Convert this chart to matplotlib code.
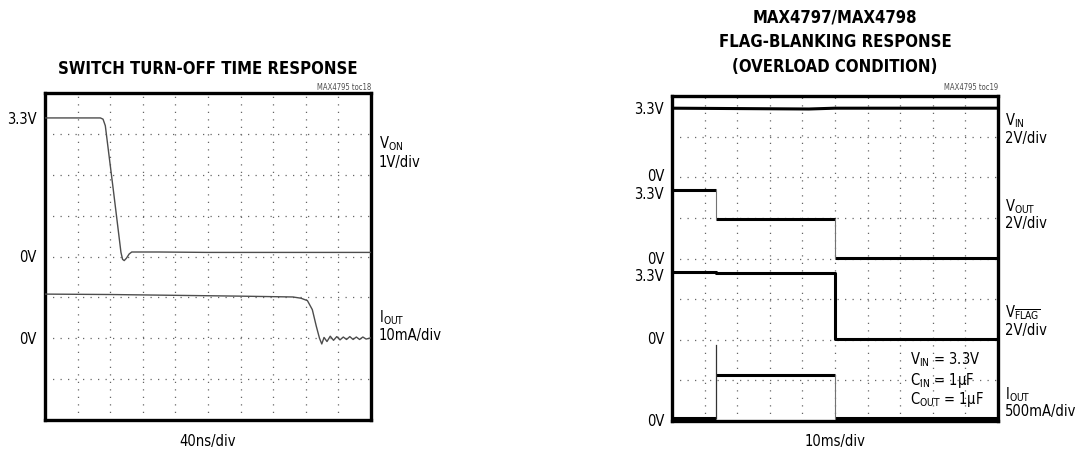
import numpy as np
import matplotlib.pyplot as plt

# ---- data (in scope divisions: x 0..10, y 0..8) ----
# switch turn-off: V_ON trace
von_x = [0.0, 1.70, 1.78, 1.85, 2.10, 2.33, 2.38, 2.43, 2.50, 2.58, 2.66, 3.5, 5.0, 7.0, 10.0]
von_y = [7.39, 7.39, 7.36, 7.20, 5.60, 4.10, 3.93, 3.90, 3.96, 4.06, 4.11, 4.11, 4.10, 4.10, 4.10]
# switch turn-off: I_OUT trace
iout_x = [0.0, 2.0, 4.0, 6.0, 7.6, 7.85, 8.05, 8.20, 8.32, 8.42, 8.49, 8.56, 8.65, 8.75, 8.85,
          8.95, 9.05, 9.15, 9.25, 9.35, 9.45, 9.55, 9.65, 9.75, 9.85, 10.0]
iout_y = [3.08, 3.07, 3.05, 3.03, 3.01, 2.98, 2.92, 2.70, 2.30, 2.00, 1.86, 2.02, 1.92, 2.05, 1.95,
          2.04, 1.96, 2.03, 1.97, 2.04, 1.97, 2.03, 1.97, 2.03, 1.98, 2.01]

# flag-blanking: step traces
t_block = 1.36
t_flag = 5.01
vin_x = [0.0, 4.2, 5.0, 10.0]
vin_y = [7.70, 7.68, 7.70, 7.70]
vout_x = [0.0, t_block, t_block, t_flag, t_flag, 10.0]
vout_y = [5.69, 5.69, 4.97, 4.97, 4.02, 4.02]
vflag_x = [0.0, t_block, t_block, t_flag, t_flag, 10.0]
vflag_y = [3.67, 3.67, 3.64, 3.64, 2.02, 2.02]
iflag_x = [0.0, t_block, t_block, t_block, t_block, t_flag, t_flag, 10.0]
iflag_y = [0.08, 0.08, 1.87, 1.87, 1.13, 1.13, 0.08, 0.08]

W, H = 1077, 456
plt.rcParams['font.family'] = ['DejaVu Sans']
plt.rcParams['font.stretch'] = 'condensed'
plt.rcParams['mathtext.fontset'] = 'custom'
plt.rcParams['mathtext.rm'] = 'DejaVu Sans:stretch=condensed'
plt.rcParams['mathtext.it'] = 'DejaVu Sans:stretch=condensed'

fig = plt.figure(figsize=(W / 100, H / 100), dpi=100)
FS = 10.5
TFS = 12


def px(x, y):
    return x / W, 1 - y / H


def scope_axes(x0, y0, x1, y1):
    ax = fig.add_axes([x0 / W, 1 - y1 / H, (x1 - x0) / W, (y1 - y0) / H])
    ax.set_xlim(0, 10)
    ax.set_ylim(0, 8)
    for k in range(1, 10):
        ax.axvline(k, color='0.4', lw=0.9, ls=(0, (1, 5)), zorder=1)
    for k in range(1, 8):
        ax.axhline(k, color='0.4', lw=0.9, ls=(0, (1, 5)), zorder=1)
    ax.set_xticks([])
    ax.set_yticks([])
    for s in ax.spines.values():
        s.set_linewidth(2.4)
        s.set_color('black')
    return ax


# ---------- left panel ----------
axl = scope_axes(45, 94, 371, 421)
axl.plot(von_x, von_y, color='0.3', lw=1.0, zorder=3)
axl.plot(iout_x, iout_y, color='0.3', lw=1.0, zorder=3)

fig.text(*px(208, 69), 'SWITCH TURN-OFF TIME RESPONSE', ha='center', va='center',
         fontsize=TFS, fontweight='bold')
fig.text(*px(371, 87), 'MAX4795 toc18', ha='right', va='center', fontsize=5.5, color='0.3')
for y, s in [(119, '3.3V'), (258, '0V'), (339, '0V')]:
    fig.text(*px(37, y), s, ha='right', va='center', fontsize=FS)
fig.text(*px(379, 144), r'V$_{\mathregular{ON}}$', ha='left', va='center', fontsize=FS)
fig.text(*px(379, 163), '1V/div', ha='left', va='center', fontsize=FS)
fig.text(*px(379, 318), r'I$_{\mathregular{OUT}}$', ha='left', va='center', fontsize=FS)
fig.text(*px(379, 336), '10mA/div', ha='left', va='center', fontsize=FS)
fig.text(*px(208, 442), '40ns/div', ha='center', va='center', fontsize=FS)

# ---------- right panel ----------
axr = scope_axes(672, 97, 998, 422)
for xs, ys in [(vin_x, vin_y), (vout_x[:2], vout_y[:2]), (vout_x[2:4], vout_y[2:4]),
               (vout_x[4:], vout_y[4:]), (vflag_x, vflag_y),
               (iflag_x[:2], iflag_y[:2]), (iflag_x[4:6], iflag_y[4:6]), (iflag_x[6:], iflag_y[6:])]:
    axr.plot(xs, ys, color='black', lw=2.2, zorder=3, solid_capstyle='butt')
# thin transition edges
axr.plot(vout_x[1:3], vout_y[1:3], color='0.45', lw=0.8, zorder=3)
axr.plot(vout_x[3:5], vout_y[3:5], color='0.45', lw=0.8, zorder=3)
axr.plot(iflag_x[1:3], iflag_y[1:3], color='0.2', lw=0.9, zorder=3)
axr.plot(iflag_x[5:7], iflag_y[5:7], color='0.45', lw=0.8, zorder=3)

for y, s in [(17, 'MAX4797/MAX4798'), (42, 'FLAG-BLANKING RESPONSE'), (67, '(OVERLOAD CONDITION)')]:
    fig.text(*px(835, y), s, ha='center', va='center', fontsize=TFS, fontweight='bold')
fig.text(*px(998, 87), 'MAX4795 toc19', ha='right', va='center', fontsize=5.5, color='0.3')
for y, s in [(110, '3.3V'), (177, '0V'), (195, '3.3V'), (259, '0V'), (277, '3.3V'),
             (340, '0V'), (422, '0V')]:
    fig.text(*px(664, y), s, ha='right', va='center', fontsize=FS)
rl = [(121, r'V$_{\mathregular{IN}}$'), (139, '2V/div'),
      (207, r'V$_{\mathregular{OUT}}$'), (224, '2V/div'),
      (313, r'V$_{\overline{\mathregular{FLAG}}}$'), (331, '2V/div'),
      (395, r'I$_{\mathregular{OUT}}$'), (412, '500mA/div')]
for y, s in rl:
    fig.text(*px(1005, y), s, ha='left', va='center', fontsize=FS)
for y, s in [(360, r'V$_{\mathregular{IN}}$ = 3.3V'), (380, r'C$_{\mathregular{IN}}$ = 1$\mathregular{\mu}$F'),
             (400, r'C$_{\mathregular{OUT}}$ = 1$\mathregular{\mu}$F')]:
    fig.text(*px(910, y), s, ha='left', va='center', fontsize=FS)
fig.text(*px(835, 442), '10ms/div', ha='center', va='center', fontsize=FS)

fig.savefig('out.png', dpi=100)
